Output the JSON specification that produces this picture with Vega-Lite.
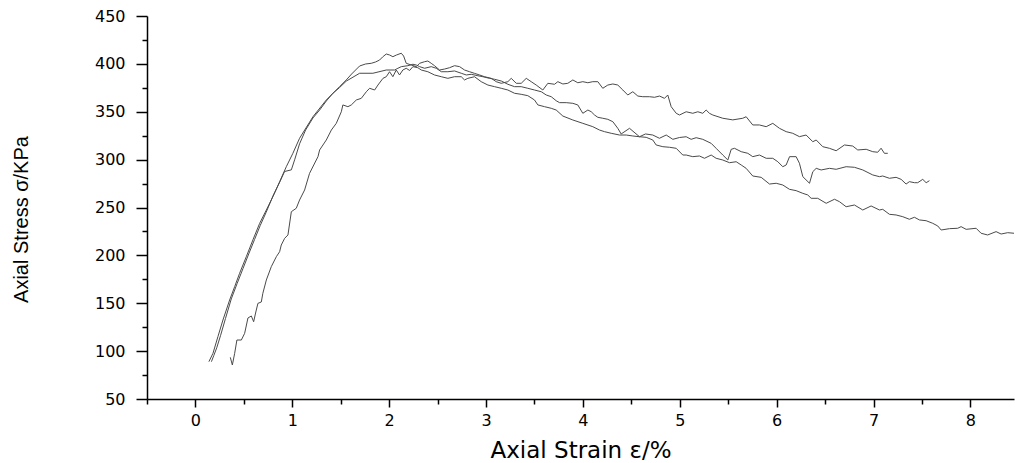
{
  "$schema": "https://vega.github.io/schema/vega-lite/v6.json",
  "width": 867,
  "height": 383,
  "autosize": {"type": "none"},
  "padding": {"left": 147, "top": 16, "right": 1, "bottom": 64},
  "background": "white",
  "config": {"view": {"stroke": null}},
  "datasets": {
    "curves": [
      {"test":"T","strain":0.139,"stress":89.0},{"test":"T","strain":0.181,"stress":97.7},{"test":"T","strain":0.232,"stress":115.1},{"test":"T","strain":0.284,"stress":132.5},{"test":"T","strain":0.353,"stress":153.4},{"test":"T","strain":0.405,"stress":167.3},{"test":"T","strain":0.456,"stress":181.3},{"test":"T","strain":0.525,"stress":198.6},{"test":"T","strain":0.593,"stress":216.1},{"test":"T","strain":0.663,"stress":233.5},{"test":"T","strain":0.732,"stress":247.4},{"test":"T","strain":0.800,"stress":261.3},{"test":"T","strain":0.869,"stress":276.9},{"test":"T","strain":0.938,"stress":292.6},{"test":"T","strain":1.006,"stress":306.6},{"test":"T","strain":1.075,"stress":322.3},{"test":"T","strain":1.213,"stress":344.8},{"test":"T","strain":1.351,"stress":362.3},{"test":"T","strain":1.488,"stress":376.2},{"test":"T","strain":1.557,"stress":383.2},{"test":"T","strain":1.612,"stress":389.4},{"test":"T","strain":1.695,"stress":397.8},{"test":"T","strain":1.757,"stress":399.9},{"test":"T","strain":1.815,"stress":400.6},{"test":"T","strain":1.860,"stress":402.0},{"test":"T","strain":1.901,"stress":404.0},{"test":"T","strain":1.932,"stress":407.2},{"test":"T","strain":1.970,"stress":410.3},{"test":"T","strain":2.004,"stress":409.3},{"test":"T","strain":2.038,"stress":407.5},{"test":"T","strain":2.076,"stress":409.3},{"test":"T","strain":2.125,"stress":411.1},{"test":"T","strain":2.149,"stress":408.2},{"test":"T","strain":2.176,"stress":400.6},{"test":"T","strain":2.228,"stress":398.8},{"test":"T","strain":2.280,"stress":397.1},{"test":"T","strain":2.314,"stress":400.6},{"test":"T","strain":2.366,"stress":402.3},{"test":"T","strain":2.399,"stress":403.0},{"test":"T","strain":2.434,"stress":400.6},{"test":"T","strain":2.468,"stress":398.1},{"test":"T","strain":2.520,"stress":393.6},{"test":"T","strain":2.572,"stress":394.6},{"test":"T","strain":2.623,"stress":396.0},{"test":"T","strain":2.675,"stress":398.1},{"test":"T","strain":2.727,"stress":397.1},{"test":"T","strain":2.778,"stress":393.6},{"test":"T","strain":2.830,"stress":391.8},{"test":"T","strain":2.881,"stress":390.1},{"test":"T","strain":2.933,"stress":388.4},{"test":"T","strain":2.984,"stress":386.6},{"test":"T","strain":3.054,"stress":384.9},{"test":"T","strain":3.105,"stress":381.4},{"test":"T","strain":3.157,"stress":379.7},{"test":"T","strain":3.225,"stress":381.4},{"test":"T","strain":3.260,"stress":384.9},{"test":"T","strain":3.312,"stress":379.7},{"test":"T","strain":3.363,"stress":379.7},{"test":"T","strain":3.415,"stress":384.9},{"test":"T","strain":3.466,"stress":381.4},{"test":"T","strain":3.518,"stress":377.9},{"test":"T","strain":3.586,"stress":372.7},{"test":"T","strain":3.638,"stress":379.7},{"test":"T","strain":3.707,"stress":378.7},{"test":"T","strain":3.741,"stress":381.4},{"test":"T","strain":3.793,"stress":379.0},{"test":"T","strain":3.844,"stress":379.7},{"test":"T","strain":3.896,"stress":383.2},{"test":"T","strain":3.947,"stress":380.3},{"test":"T","strain":3.999,"stress":381.4},{"test":"T","strain":4.051,"stress":380.3},{"test":"T","strain":4.102,"stress":381.4},{"test":"T","strain":4.154,"stress":381.4},{"test":"T","strain":4.205,"stress":374.5},{"test":"T","strain":4.257,"stress":377.9},{"test":"T","strain":4.309,"stress":379.0},{"test":"T","strain":4.360,"stress":377.9},{"test":"T","strain":4.412,"stress":372.7},{"test":"T","strain":4.463,"stress":367.5},{"test":"T","strain":4.515,"stress":370.9},{"test":"T","strain":4.567,"stress":366.4},{"test":"T","strain":4.618,"stress":365.7},{"test":"T","strain":4.687,"stress":365.7},{"test":"T","strain":4.739,"stress":365.1},{"test":"T","strain":4.791,"stress":366.4},{"test":"T","strain":4.842,"stress":364.0},{"test":"T","strain":4.876,"stress":367.5},{"test":"T","strain":4.911,"stress":355.3},{"test":"T","strain":4.963,"stress":348.4},{"test":"T","strain":4.997,"stress":346.6},{"test":"T","strain":5.066,"stress":350.0},{"test":"T","strain":5.134,"stress":348.4},{"test":"T","strain":5.186,"stress":350.0},{"test":"T","strain":5.237,"stress":348.4},{"test":"T","strain":5.272,"stress":351.8},{"test":"T","strain":5.306,"stress":348.4},{"test":"T","strain":5.341,"stress":346.6},{"test":"T","strain":5.444,"stress":343.2},{"test":"T","strain":5.547,"stress":341.5},{"test":"T","strain":5.650,"stress":343.2},{"test":"T","strain":5.685,"stress":344.8},{"test":"T","strain":5.753,"stress":336.2},{"test":"T","strain":5.822,"stress":336.2},{"test":"T","strain":5.892,"stress":334.4},{"test":"T","strain":5.960,"stress":337.9},{"test":"T","strain":6.029,"stress":332.7},{"test":"T","strain":6.098,"stress":329.2},{"test":"T","strain":6.166,"stress":327.5},{"test":"T","strain":6.235,"stress":324.0},{"test":"T","strain":6.304,"stress":325.7},{"test":"T","strain":6.373,"stress":318.7},{"test":"T","strain":6.408,"stress":320.5},{"test":"T","strain":6.476,"stress":313.5},{"test":"T","strain":6.545,"stress":311.8},{"test":"T","strain":6.614,"stress":309.3},{"test":"T","strain":6.700,"stress":315.3},{"test":"T","strain":6.785,"stress":314.2},{"test":"T","strain":6.837,"stress":310.1},{"test":"T","strain":6.924,"stress":310.8},{"test":"T","strain":6.992,"stress":308.3},{"test":"T","strain":7.043,"stress":307.7},{"test":"T","strain":7.078,"stress":311.9},{"test":"T","strain":7.112,"stress":306.6},{"test":"T","strain":7.147,"stress":306.6},

      {"test":"M","strain":0.165,"stress":89.0},{"test":"M","strain":0.19,"stress":95.5},{"test":"M","strain":0.22,"stress":103.5},{"test":"M","strain":0.26,"stress":116.5},{"test":"M","strain":0.31,"stress":134.0},{"test":"M","strain":0.37,"stress":154.5},{"test":"M","strain":0.43,"stress":170.5},{"test":"M","strain":0.49,"stress":186.0},{"test":"M","strain":0.55,"stress":201.5},{"test":"M","strain":0.61,"stress":216.5},{"test":"M","strain":0.67,"stress":231.5},{"test":"M","strain":0.73,"stress":245.0},{"test":"M","strain":0.80,"stress":262.0},{"test":"M","strain":0.87,"stress":276.5},{"test":"M","strain":0.92,"stress":287.6},{"test":"M","strain":0.99,"stress":289.3},{"test":"M","strain":1.024,"stress":299.8},{"test":"M","strain":1.075,"stress":316.5},{"test":"M","strain":1.137,"stress":330.9},{"test":"M","strain":1.213,"stress":343.5},{"test":"M","strain":1.282,"stress":351.8},{"test":"M","strain":1.351,"stress":361.2},{"test":"M","strain":1.419,"stress":369.3},{"test":"M","strain":1.488,"stress":375.3},{"test":"M","strain":1.557,"stress":382.0},{"test":"M","strain":1.695,"stress":390.2},{"test":"M","strain":1.832,"stress":390.2},{"test":"M","strain":1.970,"stress":393.6},{"test":"M","strain":2.056,"stress":393.6},{"test":"M","strain":2.090,"stress":395.4},{"test":"M","strain":2.125,"stress":397.1},{"test":"M","strain":2.193,"stress":398.1},{"test":"M","strain":2.245,"stress":399.6},{"test":"M","strain":2.280,"stress":398.8},{"test":"M","strain":2.314,"stress":397.1},{"test":"M","strain":2.366,"stress":395.4},{"test":"M","strain":2.434,"stress":397.1},{"test":"M","strain":2.486,"stress":395.4},{"test":"M","strain":2.538,"stress":391.8},{"test":"M","strain":2.606,"stress":391.8},{"test":"M","strain":2.675,"stress":392.6},{"test":"M","strain":2.744,"stress":390.2},{"test":"M","strain":2.796,"stress":388.4},{"test":"M","strain":2.847,"stress":389.1},{"test":"M","strain":2.916,"stress":387.6},{"test":"M","strain":2.967,"stress":386.6},{"test":"M","strain":3.036,"stress":384.9},{"test":"M","strain":3.088,"stress":383.9},{"test":"M","strain":3.157,"stress":382.1},{"test":"M","strain":3.225,"stress":378.7},{"test":"M","strain":3.294,"stress":376.2},{"test":"M","strain":3.363,"stress":376.2},{"test":"M","strain":3.431,"stress":374.5},{"test":"M","strain":3.500,"stress":372.7},{"test":"M","strain":3.570,"stress":370.9},{"test":"M","strain":3.621,"stress":367.5},{"test":"M","strain":3.673,"stress":365.7},{"test":"M","strain":3.724,"stress":361.5},{"test":"M","strain":3.759,"stress":359.5},{"test":"M","strain":3.828,"stress":359.5},{"test":"M","strain":3.896,"stress":358.8},{"test":"M","strain":3.947,"stress":357.1},{"test":"M","strain":3.999,"stress":348.4},{"test":"M","strain":4.051,"stress":351.8},{"test":"M","strain":4.086,"stress":350.0},{"test":"M","strain":4.120,"stress":346.6},{"test":"M","strain":4.154,"stress":344.2},{"test":"M","strain":4.205,"stress":343.2},{"test":"M","strain":4.257,"stress":342.1},{"test":"M","strain":4.309,"stress":339.6},{"test":"M","strain":4.360,"stress":332.7},{"test":"M","strain":4.395,"stress":326.8},{"test":"M","strain":4.481,"stress":332.7},{"test":"M","strain":4.584,"stress":323.9},{"test":"M","strain":4.646,"stress":326.8},{"test":"M","strain":4.721,"stress":325.7},{"test":"M","strain":4.790,"stress":322.3},{"test":"M","strain":4.860,"stress":325.7},{"test":"M","strain":4.928,"stress":321.2},{"test":"M","strain":4.997,"stress":323.1},{"test":"M","strain":5.066,"stress":323.9},{"test":"M","strain":5.117,"stress":321.2},{"test":"M","strain":5.169,"stress":322.9},{"test":"M","strain":5.237,"stress":321.2},{"test":"M","strain":5.324,"stress":317.0},{"test":"M","strain":5.375,"stress":311.8},{"test":"M","strain":5.444,"stress":304.8},{"test":"M","strain":5.496,"stress":299.6},{"test":"M","strain":5.531,"stress":310.8},{"test":"M","strain":5.565,"stress":311.8},{"test":"M","strain":5.634,"stress":308.3},{"test":"M","strain":5.702,"stress":306.6},{"test":"M","strain":5.753,"stress":303.1},{"test":"M","strain":5.822,"stress":304.8},{"test":"M","strain":5.892,"stress":301.4},{"test":"M","strain":5.960,"stress":301.4},{"test":"M","strain":6.012,"stress":297.8},{"test":"M","strain":6.063,"stress":292.6},{"test":"M","strain":6.098,"stress":294.4},{"test":"M","strain":6.133,"stress":303.1},{"test":"M","strain":6.201,"stress":303.1},{"test":"M","strain":6.235,"stress":296.2},{"test":"M","strain":6.270,"stress":282.2},{"test":"M","strain":6.339,"stress":275.3},{"test":"M","strain":6.373,"stress":287.4},{"test":"M","strain":6.408,"stress":290.9},{"test":"M","strain":6.459,"stress":289.2},{"test":"M","strain":6.545,"stress":290.9},{"test":"M","strain":6.614,"stress":289.9},{"test":"M","strain":6.717,"stress":292.6},{"test":"M","strain":6.803,"stress":292.0},{"test":"M","strain":6.889,"stress":289.2},{"test":"M","strain":6.992,"stress":284.0},{"test":"M","strain":7.061,"stress":282.2},{"test":"M","strain":7.095,"stress":282.9},{"test":"M","strain":7.164,"stress":280.5},{"test":"M","strain":7.233,"stress":281.5},{"test":"M","strain":7.285,"stress":279.4},{"test":"M","strain":7.336,"stress":274.5},{"test":"M","strain":7.370,"stress":277.0},{"test":"M","strain":7.422,"stress":275.9},{"test":"M","strain":7.456,"stress":275.9},{"test":"M","strain":7.508,"stress":279.4},{"test":"M","strain":7.543,"stress":275.9},{"test":"M","strain":7.577,"stress":278.0},

      {"test":"B","strain":0.360,"stress":93.5},{"test":"B","strain":0.381,"stress":85.5},{"test":"B","strain":0.405,"stress":97.7},{"test":"B","strain":0.428,"stress":111.6},{"test":"B","strain":0.474,"stress":111.6},{"test":"B","strain":0.508,"stress":118.6},{"test":"B","strain":0.542,"stress":134.6},{"test":"B","strain":0.577,"stress":136.7},{"test":"B","strain":0.601,"stress":130.7},{"test":"B","strain":0.621,"stress":139.8},{"test":"B","strain":0.645,"stress":149.9},{"test":"B","strain":0.680,"stress":151.3},{"test":"B","strain":0.696,"stress":160.4},{"test":"B","strain":0.732,"stress":174.3},{"test":"B","strain":0.783,"stress":188.2},{"test":"B","strain":0.835,"stress":198.6},{"test":"B","strain":0.869,"stress":203.8},{"test":"B","strain":0.886,"stress":210.8},{"test":"B","strain":0.921,"stress":217.8},{"test":"B","strain":0.955,"stress":221.3},{"test":"B","strain":0.990,"stress":245.6},{"test":"B","strain":1.041,"stress":249.2},{"test":"B","strain":1.075,"stress":257.8},{"test":"B","strain":1.127,"stress":268.3},{"test":"B","strain":1.178,"stress":285.7},{"test":"B","strain":1.265,"stress":303.1},{"test":"B","strain":1.282,"stress":310.1},{"test":"B","strain":1.351,"stress":320.5},{"test":"B","strain":1.403,"stress":330.9},{"test":"B","strain":1.454,"stress":337.9},{"test":"B","strain":1.506,"stress":350.0},{"test":"B","strain":1.522,"stress":357.1},{"test":"B","strain":1.574,"stress":355.3},{"test":"B","strain":1.609,"stress":357.1},{"test":"B","strain":1.661,"stress":362.3},{"test":"B","strain":1.712,"stress":364.0},{"test":"B","strain":1.764,"stress":370.9},{"test":"B","strain":1.798,"stress":374.5},{"test":"B","strain":1.850,"stress":372.7},{"test":"B","strain":1.884,"stress":377.9},{"test":"B","strain":1.936,"stress":384.9},{"test":"B","strain":1.970,"stress":386.6},{"test":"B","strain":2.004,"stress":391.8},{"test":"B","strain":2.038,"stress":386.6},{"test":"B","strain":2.073,"stress":393.6},{"test":"B","strain":2.107,"stress":388.4},{"test":"B","strain":2.141,"stress":393.6},{"test":"B","strain":2.176,"stress":395.4},{"test":"B","strain":2.211,"stress":393.1},{"test":"B","strain":2.245,"stress":397.1},{"test":"B","strain":2.296,"stress":396.0},{"test":"B","strain":2.331,"stress":393.6},{"test":"B","strain":2.399,"stress":391.8},{"test":"B","strain":2.468,"stress":388.4},{"test":"B","strain":2.538,"stress":386.6},{"test":"B","strain":2.606,"stress":384.9},{"test":"B","strain":2.675,"stress":386.6},{"test":"B","strain":2.744,"stress":386.6},{"test":"B","strain":2.778,"stress":383.2},{"test":"B","strain":2.812,"stress":384.9},{"test":"B","strain":2.881,"stress":386.6},{"test":"B","strain":2.950,"stress":381.4},{"test":"B","strain":3.019,"stress":377.9},{"test":"B","strain":3.088,"stress":376.2},{"test":"B","strain":3.157,"stress":374.5},{"test":"B","strain":3.225,"stress":372.7},{"test":"B","strain":3.294,"stress":369.3},{"test":"B","strain":3.363,"stress":368.2},{"test":"B","strain":3.431,"stress":366.8},{"test":"B","strain":3.500,"stress":362.3},{"test":"B","strain":3.535,"stress":357.1},{"test":"B","strain":3.604,"stress":355.3},{"test":"B","strain":3.673,"stress":353.6},{"test":"B","strain":3.724,"stress":351.8},{"test":"B","strain":3.793,"stress":345.5},{"test":"B","strain":3.896,"stress":341.4},{"test":"B","strain":3.999,"stress":337.9},{"test":"B","strain":4.102,"stress":334.4},{"test":"B","strain":4.171,"stress":330.9},{"test":"B","strain":4.223,"stress":329.2},{"test":"B","strain":4.292,"stress":327.5},{"test":"B","strain":4.378,"stress":325.7},{"test":"B","strain":4.447,"stress":325.7},{"test":"B","strain":4.515,"stress":324.7},{"test":"B","strain":4.584,"stress":323.9},{"test":"B","strain":4.653,"stress":323.3},{"test":"B","strain":4.721,"stress":320.5},{"test":"B","strain":4.756,"stress":315.3},{"test":"B","strain":4.825,"stress":313.5},{"test":"B","strain":4.894,"stress":312.9},{"test":"B","strain":4.963,"stress":311.8},{"test":"B","strain":5.031,"stress":304.8},{"test":"B","strain":5.066,"stress":304.8},{"test":"B","strain":5.134,"stress":303.1},{"test":"B","strain":5.203,"stress":303.8},{"test":"B","strain":5.255,"stress":301.4},{"test":"B","strain":5.324,"stress":304.8},{"test":"B","strain":5.375,"stress":301.4},{"test":"B","strain":5.444,"stress":299.6},{"test":"B","strain":5.513,"stress":296.8},{"test":"B","strain":5.582,"stress":297.8},{"test":"B","strain":5.634,"stress":294.4},{"test":"B","strain":5.685,"stress":290.9},{"test":"B","strain":5.753,"stress":282.9},{"test":"B","strain":5.840,"stress":281.5},{"test":"B","strain":5.926,"stress":274.5},{"test":"B","strain":5.995,"stress":275.3},{"test":"B","strain":6.063,"stress":273.5},{"test":"B","strain":6.132,"stress":269.0},{"test":"B","strain":6.201,"stress":267.6},{"test":"B","strain":6.270,"stress":264.8},{"test":"B","strain":6.321,"stress":263.1},{"test":"B","strain":6.356,"stress":259.6},{"test":"B","strain":6.424,"stress":259.6},{"test":"B","strain":6.511,"stress":254.4},{"test":"B","strain":6.597,"stress":258.6},{"test":"B","strain":6.648,"stress":256.1},{"test":"B","strain":6.717,"stress":250.8},{"test":"B","strain":6.803,"stress":252.6},{"test":"B","strain":6.889,"stress":247.4},{"test":"B","strain":6.975,"stress":251.6},{"test":"B","strain":7.061,"stress":247.4},{"test":"B","strain":7.095,"stress":248.1},{"test":"B","strain":7.164,"stress":242.9},{"test":"B","strain":7.233,"stress":242.2},{"test":"B","strain":7.302,"stress":240.4},{"test":"B","strain":7.370,"stress":237.7},{"test":"B","strain":7.422,"stress":239.8},{"test":"B","strain":7.474,"stress":237.0},{"test":"B","strain":7.543,"stress":236.2},{"test":"B","strain":7.611,"stress":233.5},{"test":"B","strain":7.663,"stress":230.7},{"test":"B","strain":7.698,"stress":226.5},{"test":"B","strain":7.784,"stress":227.9},{"test":"B","strain":7.869,"stress":228.3},{"test":"B","strain":7.904,"stress":230.0},{"test":"B","strain":7.956,"stress":227.2},{"test":"B","strain":8.059,"stress":228.3},{"test":"B","strain":8.110,"stress":223.1},{"test":"B","strain":8.178,"stress":221.3},{"test":"B","strain":8.265,"stress":224.8},{"test":"B","strain":8.317,"stress":222.3},{"test":"B","strain":8.385,"stress":223.7},{"test":"B","strain":8.45,"stress":223.1}
    ]
  },
  "data": {"name": "curves"},
  "layer": [
    {
      "mark": {"type": "line", "color": "#4a4a4a", "strokeWidth": 1, "clip": true},
      "encoding": {
        "x": {
          "field": "strain", "type": "quantitative",
          "scale": {"domain": [-0.5, 8.45], "nice": false, "zero": false},
          "axis": {
            "orient": "bottom", "values": [0, 1, 2, 3, 4, 5, 6, 7, 8], "grid": false,
            "domainColor": "black", "domainWidth": 1.5, "tickColor": "black", "tickWidth": 1.5, "tickSize": 8,
            "labelFont": "DejaVu Sans", "labelFontSize": 16, "labelColor": "black", "labelPadding": 5,
            "title": "Axial Strain ε/%", "titleFont": "DejaVu Sans", "titleFontSize": 23, "titleFontWeight": "normal",
            "titleColor": "black", "titleBaseline": "alphabetic", "titleY": 58
          }
        },
        "y": {
          "field": "stress", "type": "quantitative",
          "scale": {"domain": [50, 450], "nice": false, "zero": false},
          "axis": {
            "orient": "left", "values": [50, 100, 150, 200, 250, 300, 350, 400, 450], "grid": false,
            "domainColor": "black", "domainWidth": 1.5, "tickColor": "black", "tickWidth": 1.5, "tickSize": 11,
            "labelFont": "DejaVu Sans", "labelFontSize": 16, "labelColor": "black", "labelPadding": 11,
            "title": "Axial Stress σ/KPa", "titleFont": "Liberation Sans", "titleFontSize": 20, "titleFontWeight": "normal",
            "titleColor": "black", "titleX": -116, "titleY": 203
          }
        },
        "detail": {"field": "test", "type": "nominal"}
      }
    },
    {
      "mark": {"type": "point", "opacity": 0},
      "encoding": {
        "x": {
          "field": "strain", "type": "quantitative",
          "axis": {
            "orient": "bottom", "values": [-0.5, 0.5, 1.5, 2.5, 3.5, 4.5, 5.5, 6.5, 7.5], "grid": false,
            "domain": false, "labels": false, "title": null,
            "tickColor": "black", "tickWidth": 1.5, "tickSize": 5
          }
        },
        "y": {
          "field": "stress", "type": "quantitative",
          "axis": {
            "orient": "left", "values": [75, 125, 175, 225, 275, 325, 375, 425], "grid": false,
            "domain": false, "labels": false, "title": null,
            "tickColor": "black", "tickWidth": 1.5, "tickSize": 5
          }
        }
      }
    }
  ],
  "resolve": {"axis": {"x": "independent", "y": "independent"}}
}
